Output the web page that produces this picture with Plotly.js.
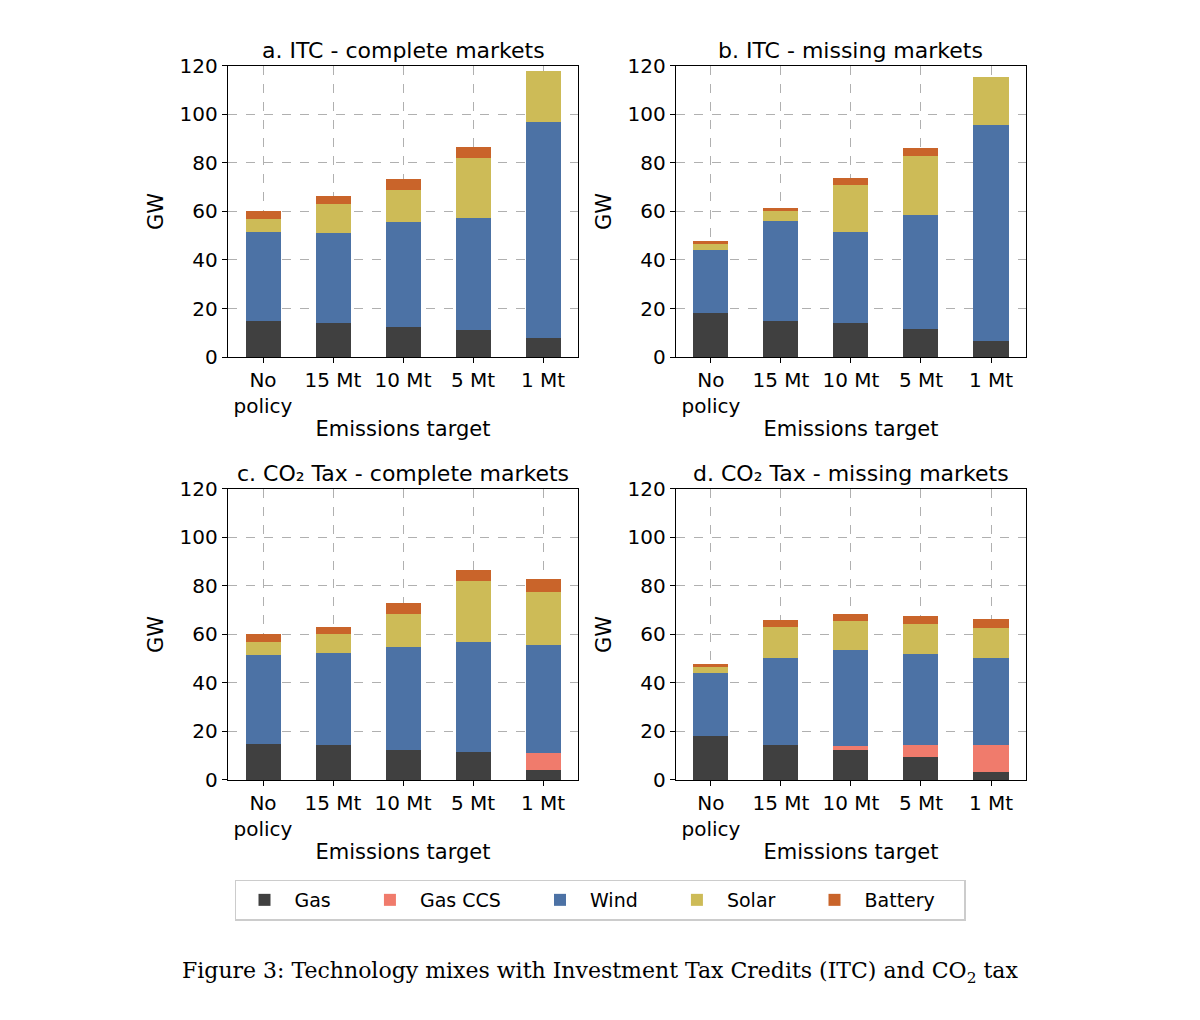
<!DOCTYPE html>
<html>
<head>
<meta charset="utf-8">
<script src="https://cdn.plot.ly/plotly-3.0.1.min.js"></script>
<style>body{margin:0;background:#fff}#chart{width:1200px;height:1020px}</style>
</head>
<body>
<div id="chart"></div>
<script>
const categories = ['No<br>policy', '15 Mt', '10 Mt', '5 Mt', '1 Mt'];
const techs = ['Gas', 'Gas CCS', 'Wind', 'Solar', 'Battery'];
const techColors = ['#404040', '#f07b6c', '#4c72a5', '#cdbb57', '#c9642a'];
const panelTitles = ['a. ITC - complete markets', 'b. ITC - missing markets',
  'c. CO₂ Tax - complete markets', 'd. CO₂ Tax - missing markets'];

// GW per technology, per panel
const gasA = [15, 14, 12.5, 11, 8];
const ccsA = [0, 0, 0, 0, 0];
const windA = [36.5, 37, 43, 46.5, 89];
const solarA = [5.5, 12, 13.5, 24.5, 21];
const batA = [3, 3.5, 4.5, 4.5, 0];

const gasB = [18, 15, 14, 11.5, 6.5];
const ccsB = [0, 0, 0, 0, 0];
const windB = [26, 41, 37.5, 47, 89];
const solarB = [2.5, 4, 19.5, 24.5, 20];
const batB = [1.5, 1.5, 3, 3, 0];

const gasC = [15, 14.5, 12.5, 11.5, 4];
const ccsC = [0, 0, 0, 0, 7];
const windC = [36.5, 38, 42.5, 45.5, 44.5];
const solarC = [5.5, 7.5, 13.5, 25, 22];
const batC = [3, 3, 4.5, 4.5, 5.5];

const gasD = [18, 14.5, 12.5, 9.5, 3.5];
const ccsD = [0, 0, 1.5, 5, 11];
const windD = [26, 36, 39.5, 37.5, 36];
const solarD = [2.5, 12.5, 12, 12.5, 12];
const batD = [1.5, 3, 3, 3, 4];

const panels = [
  [gasA, ccsA, windA, solarA, batA],
  [gasB, ccsB, windB, solarB, batB],
  [gasC, ccsC, windC, solarC, batC],
  [gasD, ccsD, windD, solarD, batD],
];

const xDom = [[0.19, 0.4817], [0.5633, 0.855]];
const yDom = [[0.65, 0.9353], [0.2353, 0.5206]];
const font = { family: 'DejaVu Sans', color: '#000' };

const traces = [];
const layout = {
  width: 1200, height: 1020,
  margin: { l: 0, r: 0, t: 0, b: 0 },
  paper_bgcolor: '#fff', plot_bgcolor: '#fff',
  font: Object.assign({ size: 20 }, font),
  barmode: 'stack',
  showlegend: true,
  legend: {
    orientation: 'h', x: 0.5, xanchor: 'center', y: 1 - 900 / 1020, yanchor: 'middle',
    bordercolor: '#ccc', borderwidth: 1.5, font: { size: 19 },
    itemwidth: 50, itemsizing: 'constant',
  },
  annotations: [],
};

panels.forEach((series, p) => {
  const n = p + 1;
  const xa = n === 1 ? 'x' : 'x' + n;
  const ya = n === 1 ? 'y' : 'y' + n;
  series.forEach((vals, t) => {
    traces.push({
      type: 'bar', x: categories, y: vals, name: techs[t] + '\u00a0\u00a0\u00a0\u00a0',
      xaxis: xa, yaxis: ya, width: 0.5,
      marker: { color: techColors[t], line: { width: 0 } },
      legendgroup: techs[t], showlegend: p === 0,
      hoverinfo: 'y+name',
    });
  });
  const col = p % 2, row = Math.floor(p / 2);
  layout['xaxis' + (n === 1 ? '' : n)] = {
    domain: xDom[col], anchor: ya,
    showline: true, mirror: true, linecolor: '#000', linewidth: 1.2,
    ticks: 'outside', ticklen: 5, tickcolor: '#000',
    showgrid: true, gridcolor: '#b0b0b0', griddash: 'dash', gridwidth: 1,
    title: { text: 'Emissions target', font: { size: 21 }, standoff: 4 },
    tickfont: { size: 20 },
  };
  layout['yaxis' + (n === 1 ? '' : n)] = {
    domain: yDom[row], anchor: xa, range: [0, 120], dtick: 20,
    showline: true, mirror: true, linecolor: '#000', linewidth: 1.2,
    ticks: 'outside', ticklen: 5, tickcolor: '#000',
    showgrid: true, gridcolor: '#b0b0b0', griddash: 'dash', gridwidth: 1,
    zeroline: false,
    title: { text: 'GW', font: { size: 21 }, standoff: 10 },
    tickfont: { size: 20 },
  };
  layout.annotations.push({
    text: panelTitles[p], xref: 'paper', yref: 'paper',
    x: (xDom[col][0] + xDom[col][1]) / 2, y: yDom[row][1],
    xanchor: 'center', yanchor: 'bottom', yshift: 1,
    showarrow: false, font: { size: 22 },
  });
});

layout.annotations.push({
  text: 'Figure 3: Technology mixes with Investment Tax Credits (ITC) and CO<sub>2</sub> tax',
  xref: 'paper', yref: 'paper', x: 0.5, y: 1 - 972 / 1020,
  xanchor: 'center', yanchor: 'middle', showarrow: false,
  font: { family: 'DejaVu Serif', size: 22, color: '#000' },
});

Plotly.newPlot('chart', traces, layout, { displayModeBar: false, staticPlot: true });
</script>
</body>
</html>
